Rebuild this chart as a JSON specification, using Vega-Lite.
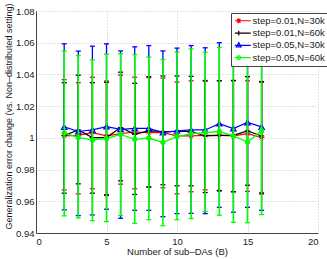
{
  "$schema": "https://vega.github.io/schema/vega-lite/v6.json",
  "width": 282,
  "height": 222,
  "autosize": {"type": "none"},
  "padding": {"left": 36, "top": 11, "right": 9, "bottom": 26},
  "background": "white",
  "config": {
    "view": {"stroke": null},
    "font": "Liberation Sans",
    "axis": {
      "labelFont": "Liberation Sans", "titleFont": "Liberation Sans",
      "labelFontSize": 9.5, "labelColor": "#1a1a1a", "titleColor": "#1a1a1a",
      "titleFontWeight": "normal", "domainColor": "#444444", "domainWidth": 1,
      "grid": true, "gridColor": "#c4c4c4", "gridDash": [1, 2], "gridWidth": 1,
      "ticks": false
    },
    "legend": {
      "orient": "none", "legendX": 195, "legendY": 2, "fillColor": "white",
      "strokeColor": "#444444", "padding": 3, "symbolOpacity": 1,
      "symbolStrokeWidth": 1.2, "symbolSize": 36, "symbolFillColor": "transparent",
      "labelFontSize": 9.5,
      "labelFont": "Liberation Sans", "labelOffset": 9, "rowPadding": 1.3,
      "labelColor": "#1a1a1a", "title": null
    }
  },
  "data": {"values": [
    {"s": "step=0.01,N=30k", "B": 2, "m": 1.0012, "lo": 0.9672, "hi": 1.0367},
    {"s": "step=0.01,N=30k", "B": 3, "m": 1.0016, "lo": 0.9647, "hi": 1.0348},
    {"s": "step=0.01,N=30k", "B": 4, "m": 1.0033, "lo": 0.9679, "hi": 1.0382},
    {"s": "step=0.01,N=30k", "B": 5, "m": 1.0012, "lo": 0.9636, "hi": 1.0358},
    {"s": "step=0.01,N=30k", "B": 6, "m": 1.0027, "lo": 0.9708, "hi": 1.0396},
    {"s": "step=0.01,N=30k", "B": 7, "m": 1.0037, "lo": 0.9679, "hi": 1.0382},
    {"s": "step=0.01,N=30k", "B": 8, "m": 1.0033, "lo": 0.9688, "hi": 1.0379},
    {"s": "step=0.01,N=30k", "B": 9, "m": 1.0033, "lo": 0.9685, "hi": 1.0377},
    {"s": "step=0.01,N=30k", "B": 10, "m": 1.0012, "lo": 0.9647, "hi": 1.0352},
    {"s": "step=0.01,N=30k", "B": 11, "m": 1.0012, "lo": 0.9660, "hi": 1.0360},
    {"s": "step=0.01,N=30k", "B": 12, "m": 1.0016, "lo": 0.9672, "hi": 1.0362},
    {"s": "step=0.01,N=30k", "B": 13, "m": 1.0016, "lo": 0.9664, "hi": 1.0360},
    {"s": "step=0.01,N=30k", "B": 14, "m": 1.0012, "lo": 0.9660, "hi": 1.0360},
    {"s": "step=0.01,N=30k", "B": 15, "m": 1.0027, "lo": 0.9662, "hi": 1.0360},
    {"s": "step=0.01,N=30k", "B": 16, "m": 1.0002, "lo": 0.9655, "hi": 1.0350},
    {"s": "step=0.01,N=60k", "B": 2, "m": 1.0015, "lo": 0.9651, "hi": 1.0348},
    {"s": "step=0.01,N=60k", "B": 3, "m": 1.0050, "lo": 0.9710, "hi": 1.0395},
    {"s": "step=0.01,N=60k", "B": 4, "m": 1.0002, "lo": 0.9651, "hi": 1.0348},
    {"s": "step=0.01,N=60k", "B": 5, "m": 1.0002, "lo": 0.9641, "hi": 1.0350},
    {"s": "step=0.01,N=60k", "B": 6, "m": 1.0065, "lo": 0.9729, "hi": 1.0414},
    {"s": "step=0.01,N=60k", "B": 7, "m": 1.0022, "lo": 0.9643, "hi": 1.0344},
    {"s": "step=0.01,N=60k", "B": 8, "m": 1.0044, "lo": 0.9691, "hi": 1.0386},
    {"s": "step=0.01,N=60k", "B": 9, "m": 1.0040, "lo": 0.9704, "hi": 1.0390},
    {"s": "step=0.01,N=60k", "B": 10, "m": 1.0040, "lo": 0.9698, "hi": 1.0390},
    {"s": "step=0.01,N=60k", "B": 11, "m": 1.0040, "lo": 0.9698, "hi": 1.0388},
    {"s": "step=0.01,N=60k", "B": 12, "m": 1.0012, "lo": 0.9655, "hi": 1.0358},
    {"s": "step=0.01,N=60k", "B": 13, "m": 1.0016, "lo": 0.9668, "hi": 1.0360},
    {"s": "step=0.01,N=60k", "B": 14, "m": 1.0016, "lo": 0.9660, "hi": 1.0362},
    {"s": "step=0.01,N=60k", "B": 15, "m": 1.0044, "lo": 0.9701, "hi": 1.0386},
    {"s": "step=0.01,N=60k", "B": 16, "m": 1.0012, "lo": 0.9647, "hi": 1.0355},
    {"s": "step=0.05,N=30k", "B": 2, "m": 1.0069, "lo": 0.9546, "hi": 1.0593},
    {"s": "step=0.05,N=30k", "B": 3, "m": 1.0040, "lo": 0.9510, "hi": 1.0547},
    {"s": "step=0.05,N=30k", "B": 4, "m": 1.0050, "lo": 0.9514, "hi": 1.0578},
    {"s": "step=0.05,N=30k", "B": 5, "m": 1.0071, "lo": 0.9550, "hi": 1.0593},
    {"s": "step=0.05,N=30k", "B": 6, "m": 1.0054, "lo": 0.9493, "hi": 1.0548},
    {"s": "step=0.05,N=30k", "B": 7, "m": 1.0060, "lo": 0.9543, "hi": 1.0574},
    {"s": "step=0.05,N=30k", "B": 8, "m": 1.0060, "lo": 0.9543, "hi": 1.0582},
    {"s": "step=0.05,N=30k", "B": 9, "m": 1.0033, "lo": 0.9503, "hi": 1.0548},
    {"s": "step=0.05,N=30k", "B": 10, "m": 1.0044, "lo": 0.9522, "hi": 1.0566},
    {"s": "step=0.05,N=30k", "B": 11, "m": 1.0050, "lo": 0.9524, "hi": 1.0582},
    {"s": "step=0.05,N=30k", "B": 12, "m": 1.0050, "lo": 0.9522, "hi": 1.0568},
    {"s": "step=0.05,N=30k", "B": 13, "m": 1.0090, "lo": 0.9562, "hi": 1.0600},
    {"s": "step=0.05,N=30k", "B": 14, "m": 1.0059, "lo": 0.9531, "hi": 1.0580},
    {"s": "step=0.05,N=30k", "B": 15, "m": 1.0097, "lo": 0.9562, "hi": 1.0620},
    {"s": "step=0.05,N=30k", "B": 16, "m": 1.0069, "lo": 0.9543, "hi": 1.0590},
    {"s": "step=0.05,N=60k", "B": 2, "m": 1.0031, "lo": 0.9508, "hi": 1.0548},
    {"s": "step=0.05,N=60k", "B": 3, "m": 1.0002, "lo": 0.9495, "hi": 1.0519},
    {"s": "step=0.05,N=60k", "B": 4, "m": 0.9987, "lo": 0.9478, "hi": 1.0491},
    {"s": "step=0.05,N=60k", "B": 5, "m": 0.9996, "lo": 0.9472, "hi": 1.0527},
    {"s": "step=0.05,N=60k", "B": 6, "m": 1.0022, "lo": 0.9510, "hi": 1.0531},
    {"s": "step=0.05,N=60k", "B": 7, "m": 0.9991, "lo": 0.9461, "hi": 1.0525},
    {"s": "step=0.05,N=60k", "B": 8, "m": 0.9999, "lo": 0.9484, "hi": 1.0509},
    {"s": "step=0.05,N=60k", "B": 9, "m": 0.9972, "lo": 0.9446, "hi": 1.0494},
    {"s": "step=0.05,N=60k", "B": 10, "m": 1.0008, "lo": 0.9484, "hi": 1.0540},
    {"s": "step=0.05,N=60k", "B": 11, "m": 1.0027, "lo": 0.9491, "hi": 1.0561},
    {"s": "step=0.05,N=60k", "B": 12, "m": 1.0033, "lo": 0.9535, "hi": 1.0540},
    {"s": "step=0.05,N=60k", "B": 13, "m": 1.0040, "lo": 0.9512, "hi": 1.0570},
    {"s": "step=0.05,N=60k", "B": 14, "m": 1.0012, "lo": 0.9467, "hi": 1.0560},
    {"s": "step=0.05,N=60k", "B": 15, "m": 0.9974, "lo": 0.9465, "hi": 1.0500},
    {"s": "step=0.05,N=60k", "B": 16, "m": 1.0044, "lo": 0.9516, "hi": 1.0570}
  ]},
  "encoding": {
    "x": {"field": "B", "type": "quantitative",
      "scale": {"domain": [0, 20], "nice": false, "zero": false},
      "axis": {"values": [0, 5, 10, 15, 20], "format": "d", "labelPadding": 3,
        "title": "Number of sub–DAs (B)", "titleFontSize": 9.5, "titleY": 18, "titleBaseline": "middle"}},
    "y": {"field": "m", "type": "quantitative",
      "scale": {"domain": [0.94, 1.08], "nice": false, "zero": false},
      "axis": {"values": [0.94, 0.96, 0.98, 1, 1.02, 1.04, 1.06, 1.08],
        "labelExpr": "datum.value == 1 ? '1' : format(datum.value, '.2f')", "labelPadding": 2,
        "title": "Generalization error change (vs. Non–distributed setting)", "titleFontSize": 9,
        "titleX": -28, "titleY": 105, "titleBaseline": "middle"}}
  },
  "layer": [
    {
      "transform": [{"filter": "datum.s == 'step=0.01,N=30k'"}],
      "layer": [
        {"mark": {"type": "rule", "color": "#ff0000", "strokeWidth": 1.3},
         "encoding": {"y": {"field": "lo", "type": "quantitative", "scale": {"domain": [0.94, 1.08], "nice": false, "zero": false}}, "y2": {"field": "hi"}}},
        {"mark": {"type": "tick", "orient": "horizontal", "color": "#ff0000", "size": 5, "thickness": 1.3, "opacity": 1},
         "encoding": {"y": {"field": "lo", "type": "quantitative", "scale": {"domain": [0.94, 1.08], "nice": false, "zero": false}}}},
        {"mark": {"type": "tick", "orient": "horizontal", "color": "#ff0000", "size": 5, "thickness": 1.3, "opacity": 1},
         "encoding": {"y": {"field": "hi", "type": "quantitative", "scale": {"domain": [0.94, 1.08], "nice": false, "zero": false}}}},
        {"mark": {"type": "line", "color": "#ff0000", "strokeWidth": 1.2}, "encoding": {}},
        {"mark": {"type": "point", "shape": "M-1,0H1M0,-1V1M-0.7,-0.7L0.7,0.7M-0.7,0.7L0.7,-0.7", "color": "#ff0000", "filled": false, "size": 30, "strokeWidth": 1, "opacity": 1}, "encoding": {}}
      ]
    },
    {
      "transform": [{"filter": "datum.s == 'step=0.01,N=60k'"}],
      "layer": [
        {"mark": {"type": "rule", "color": "#000000", "strokeWidth": 1.3},
         "encoding": {"y": {"field": "lo", "type": "quantitative", "scale": {"domain": [0.94, 1.08], "nice": false, "zero": false}}, "y2": {"field": "hi"}}},
        {"mark": {"type": "tick", "orient": "horizontal", "color": "#000000", "size": 5, "thickness": 1.3, "opacity": 1},
         "encoding": {"y": {"field": "lo", "type": "quantitative", "scale": {"domain": [0.94, 1.08], "nice": false, "zero": false}}}},
        {"mark": {"type": "tick", "orient": "horizontal", "color": "#000000", "size": 5, "thickness": 1.3, "opacity": 1},
         "encoding": {"y": {"field": "hi", "type": "quantitative", "scale": {"domain": [0.94, 1.08], "nice": false, "zero": false}}}},
        {"mark": {"type": "line", "color": "#000000", "strokeWidth": 1.2}, "encoding": {}},
        {"mark": {"type": "point", "shape": "M-1,0H1M0,-1V1", "color": "#000000", "filled": false, "size": 30, "strokeWidth": 1, "opacity": 1}, "encoding": {}}
      ]
    },
    {
      "transform": [{"filter": "datum.s == 'step=0.05,N=30k'"}],
      "layer": [
        {"mark": {"type": "rule", "color": "#0000ff", "strokeWidth": 1.3},
         "encoding": {"y": {"field": "lo", "type": "quantitative", "scale": {"domain": [0.94, 1.08], "nice": false, "zero": false}}, "y2": {"field": "hi"}}},
        {"mark": {"type": "tick", "orient": "horizontal", "color": "#0000ff", "size": 5, "thickness": 1.3, "opacity": 1},
         "encoding": {"y": {"field": "lo", "type": "quantitative", "scale": {"domain": [0.94, 1.08], "nice": false, "zero": false}}}},
        {"mark": {"type": "tick", "orient": "horizontal", "color": "#0000ff", "size": 5, "thickness": 1.3, "opacity": 1},
         "encoding": {"y": {"field": "hi", "type": "quantitative", "scale": {"domain": [0.94, 1.08], "nice": false, "zero": false}}}},
        {"mark": {"type": "line", "color": "#0000ff", "strokeWidth": 1.2}, "encoding": {}},
        {"mark": {"type": "point", "shape": "triangle-up", "color": "#0000ff", "filled": false, "size": 30, "strokeWidth": 1.2, "opacity": 1}, "encoding": {}}
      ]
    },
    {
      "transform": [{"filter": "datum.s == 'step=0.05,N=60k'"}],
      "layer": [
        {"mark": {"type": "rule", "color": "#00ff00", "strokeWidth": 1.6},
         "encoding": {"y": {"field": "lo", "type": "quantitative", "scale": {"domain": [0.94, 1.08], "nice": false, "zero": false}}, "y2": {"field": "hi"}}},
        {"mark": {"type": "tick", "orient": "horizontal", "color": "#00ff00", "size": 5, "thickness": 1.3, "opacity": 1},
         "encoding": {"y": {"field": "lo", "type": "quantitative", "scale": {"domain": [0.94, 1.08], "nice": false, "zero": false}}}},
        {"mark": {"type": "tick", "orient": "horizontal", "color": "#00ff00", "size": 5, "thickness": 1.3, "opacity": 1},
         "encoding": {"y": {"field": "hi", "type": "quantitative", "scale": {"domain": [0.94, 1.08], "nice": false, "zero": false}}}},
        {"mark": {"type": "line", "color": "#00ff00", "strokeWidth": 1.3}, "encoding": {}},
        {"mark": {"type": "point", "shape": "circle", "color": "#00ff00", "filled": false, "size": 14, "strokeWidth": 1.6, "opacity": 1}, "encoding": {}}
      ]
    },
    {
      "transform": [{"filter": "datum.B == 2"}],
      "mark": {"type": "point", "filled": false, "opacity": 0, "strokeWidth": 1.2},
      "encoding": {
        "color": {"field": "s", "type": "nominal",
          "scale": {"domain": ["step=0.01,N=30k", "step=0.01,N=60k", "step=0.05,N=30k", "step=0.05,N=60k"],
                    "range": ["#ff0000", "#000000", "#0000ff", "#00ff00"]}},
        "shape": {"field": "s", "type": "nominal",
          "scale": {"domain": ["step=0.01,N=30k", "step=0.01,N=60k", "step=0.05,N=30k", "step=0.05,N=60k"],
                    "range": [
                      "M-1.3,0H4.0M-0.8,0H0.8M0,-0.8V0.8M-0.6,-0.6L0.6,0.6M-0.6,0.6L0.6,-0.6",
                      "M-1.3,0H4.0M0,-0.8V0.8",
                      "M-1.3,0H4.0M0,-0.9L0.8,0.5H-0.8Z",
                      "M-1.3,0H4.0M0.6,0A0.6,0.6,0,1,1,-0.6,0A0.6,0.6,0,1,1,0.6,0"
                    ]}},
        "size": {"value": 36}
      }
    }
  ]
}
